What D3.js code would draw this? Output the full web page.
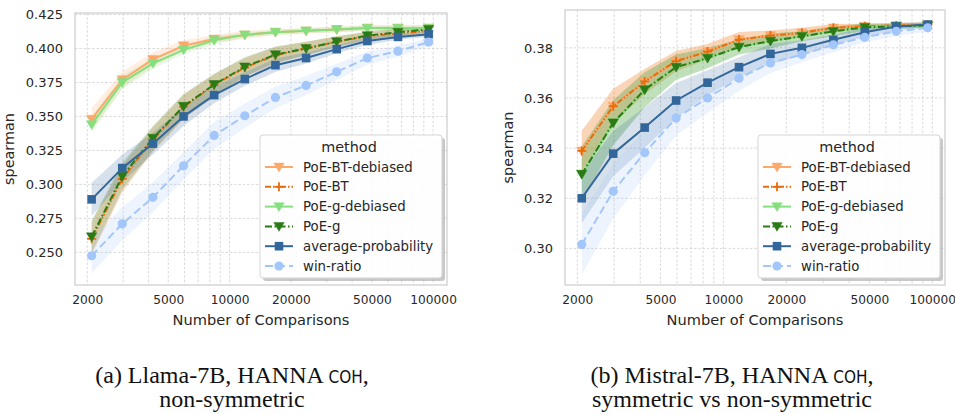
<!DOCTYPE html>
<html><head><meta charset="utf-8">
<script src="https://cdn.jsdelivr.net/npm/d3@7"></script>
<style>body{margin:0;background:#fff;} svg{display:block;}</style>
</head><body>
<svg id="chart" width="955" height="414"></svg>
<script>
const comparisons = [2100, 2970, 4200, 5940, 8400, 11880, 16800, 23760, 33600, 47520, 67200, 95040];
const methods = ["PoE-BT-debiased", "PoE-BT", "PoE-g-debiased", "PoE-g", "average-probability", "win-ratio"];
const xTicks = [2000, 5000, 10000, 20000, 50000, 100000];
const xGrid = [2000,3000,4000,5000,6000,7000,8000,9000,10000,20000,30000,40000,50000,60000,70000,80000,90000,100000];
const leftYTicks = [0.250, 0.275, 0.300, 0.325, 0.350, 0.375, 0.400, 0.425];
const rightYTicks = [0.30, 0.32, 0.34, 0.36, 0.38];

// Panel (a): Llama-7B
const aPoEBTdeb = [0.348, 0.377, 0.392, 0.402, 0.407, 0.410, 0.412, 0.413, 0.414, 0.415, 0.415, 0.415];
const aPoEBT    = [0.260, 0.304, 0.333, 0.357, 0.373, 0.386, 0.395, 0.400, 0.405, 0.409, 0.411, 0.413];
const aPoEgdeb  = [0.344, 0.375, 0.389, 0.399, 0.406, 0.410, 0.412, 0.413, 0.414, 0.415, 0.415, 0.415];
const aPoEg     = [0.2615, 0.306, 0.334, 0.3575, 0.3735, 0.3865, 0.3955, 0.400, 0.405, 0.4095, 0.412, 0.414];
const aAvgProb  = [0.289, 0.312, 0.330, 0.350, 0.3657, 0.3775, 0.3877, 0.393, 0.3995, 0.4055, 0.4085, 0.4105];
const aWinRatio = [0.2475, 0.271, 0.2905, 0.3137, 0.336, 0.3505, 0.364, 0.3728, 0.3828, 0.393, 0.398, 0.4047];
const aBand = [
  [0.008,0.006,0.005,0.004,0.003,0.003,0.002,0.002,0.002,0.002,0.002,0.002],
  [0.012,0.010,0.009,0.009,0.008,0.007,0.006,0.005,0.004,0.003,0.003,0.002],
  [0.006,0.005,0.004,0.003,0.003,0.002,0.002,0.002,0.002,0.002,0.002,0.002],
  [0.012,0.010,0.009,0.009,0.008,0.007,0.006,0.005,0.004,0.003,0.003,0.002],
  [0.012,0.010,0.008,0.007,0.006,0.005,0.005,0.004,0.003,0.003,0.002,0.002],
  [0.013,0.012,0.011,0.010,0.010,0.009,0.008,0.007,0.006,0.005,0.004,0.003]
];

// Panel (b): Mistral-7B
const bPoEBTdeb = [0.3389, 0.3567, 0.3666, 0.3747, 0.3785, 0.3833, 0.3849, 0.386, 0.388, 0.3886, 0.3889, 0.3892];
const bPoEBT    = [0.3389, 0.3567, 0.3666, 0.3747, 0.3785, 0.3833, 0.3849, 0.386, 0.388, 0.3886, 0.3889, 0.3892];
const bPoEgdeb  = [0.3296, 0.3501, 0.3633, 0.3723, 0.3759, 0.3803, 0.3827, 0.3846, 0.3866, 0.3882, 0.3886, 0.3889];
const bPoEg     = [0.3296, 0.3501, 0.3633, 0.3723, 0.3759, 0.3803, 0.3827, 0.3846, 0.3866, 0.3882, 0.3886, 0.3889];
const bAvgProb  = [0.320, 0.3378, 0.3482, 0.359, 0.3661, 0.3723, 0.3776, 0.380, 0.3832, 0.3862, 0.3885, 0.3893];
const bWinRatio = [0.3016, 0.3228, 0.3382, 0.352, 0.360, 0.3679, 0.374, 0.3773, 0.3812, 0.3842, 0.3866, 0.388];
const bBand = [
  [0.008,0.007,0.005,0.004,0.003,0.003,0.002,0.002,0.0015,0.001,0.001,0.001],
  [0.008,0.007,0.005,0.004,0.003,0.003,0.002,0.002,0.0015,0.001,0.001,0.001],
  [0.011,0.009,0.007,0.005,0.004,0.003,0.003,0.002,0.002,0.0015,0.001,0.001],
  [0.011,0.009,0.007,0.005,0.004,0.003,0.003,0.002,0.002,0.0015,0.001,0.001],
  [0.010,0.009,0.008,0.007,0.005,0.004,0.004,0.003,0.002,0.002,0.0015,0.001],
  [0.012,0.011,0.009,0.007,0.006,0.005,0.004,0.003,0.003,0.002,0.002,0.0015]
];

const styles = {
  "PoE-BT-debiased":     {color:"#fda86a", dash:null,                 marker:"tri"},
  "PoE-BT":              {color:"#e66d0c", dash:"6,2,1.5,2,1.5,2",    marker:"plus"},
  "PoE-g-debiased":      {color:"#86df7e", dash:null,                 marker:"tri"},
  "PoE-g":               {color:"#2a7a16", dash:"7,2.5,1.5,2.5",      marker:"tri"},
  "average-probability": {color:"#33679b", dash:null,                 marker:"sq"},
  "win-ratio":           {color:"#a3c6fb", dash:"8,4",                marker:"circ"}
};

const svg = d3.select("#chart");
const FONT = "DejaVu Sans, sans-serif";

function drawMarker(g, type, x, y, color) {
  if (type === "tri") {
    const s = 5.2;
    g.append("path").attr("d", `M${x-s},${y-s*0.75}L${x+s},${y-s*0.75}L${x},${y+s*0.95}Z`)
      .attr("fill", color).attr("stroke", color).attr("stroke-width", 0.5);
  } else if (type === "sq") {
    g.append("rect").attr("x", x-4.3).attr("y", y-4.3).attr("width", 8.6).attr("height", 8.6)
      .attr("fill", color);
  } else if (type === "circ") {
    g.append("circle").attr("cx", x).attr("cy", y).attr("r", 4.6).attr("fill", color);
  } else if (type === "plus") {
    g.append("path").attr("d", `M${x-4.5},${y}H${x+4.5}M${x},${y-4.5}V${y+4.5}`)
      .attr("stroke", color).attr("stroke-width", 1.8).attr("fill", "none");
  }
}

function panel(cfg) {
  const {left, right, top, bottom, yDomain, xDomain, yTicks, yFmt, series, bands, legendX} = cfg;
  const x = d3.scaleLog().domain(xDomain).range([left, right]);
  const y = d3.scaleLinear().domain(yDomain).range([bottom, top]);
  const g = svg.append("g");

  // grid
  g.append("g").selectAll("line").data(xGrid).join("line")
    .attr("x1", d => x(d)).attr("x2", d => x(d)).attr("y1", top).attr("y2", bottom)
    .attr("stroke", "#cfcfcf").attr("stroke-width", 0.8).attr("stroke-dasharray", "2.5,1.8");
  g.append("g").selectAll("line").data(yTicks).join("line")
    .attr("x1", left).attr("x2", right).attr("y1", d => y(d)).attr("y2", d => y(d))
    .attr("stroke", "#cfcfcf").attr("stroke-width", 0.8).attr("stroke-dasharray", "2.5,1.8");

  const xAxis = d3.axisBottom(x).tickValues(xTicks).tickFormat(d3.format("d")).tickSize(0).tickPadding(10);
  const xa = g.append("g").attr("transform", `translate(0,${bottom})`).call(xAxis);
  xa.select(".domain").remove();
  xa.selectAll("text").attr("font-family", FONT).attr("font-size", 12.2).attr("fill", "#262626");
  const yAxis = d3.axisLeft(y).tickValues(yTicks).tickFormat(yFmt).tickSize(0).tickPadding(12);
  const ya = g.append("g").attr("transform", `translate(${left},0)`).call(yAxis);
  ya.select(".domain").remove();
  ya.selectAll("text").attr("font-family", FONT).attr("font-size", 13).attr("fill", "#262626");

  const area = d3.area().x((d) => x(d.x)).y0(d => y(d.v - d.b)).y1(d => y(d.v + d.b)).curve(d3.curveLinear);
  const clipId = "clip" + left;
  svg.append("clipPath").attr("id", clipId).append("rect")
    .attr("x", left).attr("y", top).attr("width", right-left).attr("height", bottom-top);
  const plot = g.append("g").attr("clip-path", `url(#${clipId})`);
  methods.forEach((m, i) => {
    const pts = comparisons.map((c, k) => ({x: c, v: series[i][k], b: bands[i][k]}));
    plot.append("path").datum(pts).attr("d", area)
      .attr("fill", styles[m].color).attr("fill-opacity", 0.2).attr("stroke", "none");
  });
  const line = d3.line().x(d => x(d.x)).y(d => y(d.v));
  methods.forEach((m, i) => {
    const st = styles[m];
    const pts = comparisons.map((c, k) => ({x: c, v: series[i][k]}));
    plot.append("path").datum(pts).attr("d", line).attr("fill", "none")
      .attr("stroke", st.color).attr("stroke-width", 2)
      .attr("stroke-dasharray", st.dash).attr("stroke-linejoin", "round");
    const mg = plot.append("g");
    pts.forEach(p => drawMarker(mg, st.marker, x(p.x), y(p.v), st.color));
  });

  g.append("rect").attr("x", left).attr("y", top).attr("width", right-left).attr("height", bottom-top)
    .attr("fill", "none").attr("stroke", "#d3d3d3").attr("stroke-width", 1.4);

  g.append("text").attr("x", (left+right)/2).attr("y", 325).attr("text-anchor", "middle")
    .attr("font-family", FONT).attr("font-size", 14.6).attr("fill", "#262626").text("Number of Comparisons");
  g.append("text").attr("transform", `translate(${cfg.ylabX},${(top+bottom)/2}) rotate(-90)`)
    .attr("text-anchor", "middle").attr("font-family", FONT).attr("font-size", 14.4).attr("fill", "#262626").text("spearman");

  const lx = legendX, ly = 135, lw = 182, lh = 143;
  const lg = g.append("g");
  lg.append("rect").attr("x", lx+3).attr("y", ly+3).attr("width", lw).attr("height", lh).attr("rx", 3)
    .attr("fill", "#9a9a9a").attr("fill-opacity", 0.55);
  lg.append("rect").attr("x", lx).attr("y", ly).attr("width", lw).attr("height", lh).attr("rx", 3)
    .attr("fill", "#fff").attr("fill-opacity", 0.97).attr("stroke", "#d5d5d5").attr("stroke-width", 1);
  lg.append("text").attr("x", lx + lw/2 - 2).attr("y", ly + 17).attr("text-anchor", "middle")
    .attr("font-family", FONT).attr("font-size", 14.4).attr("fill", "#262626").text("method");
  methods.forEach((m, i) => {
    const st = styles[m];
    const cy = ly + 32 + i * 19.8;
    lg.append("line").attr("x1", lx+5).attr("x2", lx+33).attr("y1", cy).attr("y2", cy)
      .attr("stroke", st.color).attr("stroke-width", 2).attr("stroke-dasharray", st.dash);
    drawMarker(lg, st.marker, lx+19, cy, st.color);
    lg.append("text").attr("x", lx+43).attr("y", cy).attr("dy", "0.35em")
      .attr("font-family", FONT).attr("font-size", 13.3).attr("fill", "#262626").text(m);
  });
}

panel({left:75, right:447, top:13, bottom:285, xDomain:[1740, 117000], yDomain:[0.226, 0.4261],
  yTicks:leftYTicks, yFmt:d3.format(".3f"), ylabX:14,
  series:[aPoEBTdeb, aPoEBT, aPoEgdeb, aPoEg, aAvgProb, aWinRatio], bands:aBand, legendX:260});
panel({left:565, right:945, top:10, bottom:285, xDomain:[1746, 115000], yDomain:[0.2854, 0.3951],
  yTicks:rightYTicks, yFmt:d3.format(".2f"), ylabX:513,
  series:[bPoEBTdeb, bPoEBT, bPoEgdeb, bPoEg, bAvgProb, bWinRatio], bands:bBand, legendX:758});

const captions = [
  {x:232, l1:["(a) Llama-7B, HANNA ", "COH", ","], l2:"non-symmetric"},
  {x:732, l1:["(b) Mistral-7B, HANNA ", "COH", ","], l2:"symmetric vs non-symmetric"}
];
captions.forEach(c => {
  const t = svg.append("text").attr("x", c.x).attr("y", 383).attr("text-anchor", "middle")
    .attr("font-family", "Liberation Serif, serif").attr("font-size", 24).attr("fill", "#111");
  t.append("tspan").text(c.l1[0]);
  t.append("tspan").attr("font-family", "DejaVu Sans Condensed, DejaVu Sans, sans-serif").attr("font-size", 17).text(c.l1[1]);
  t.append("tspan").text(c.l1[2]);
  svg.append("text").attr("x", c.x).attr("y", 407).attr("text-anchor", "middle")
    .attr("font-family", "Liberation Serif, serif").attr("font-size", 24).attr("fill", "#111").text(c.l2);
});
</script>
</body></html>
